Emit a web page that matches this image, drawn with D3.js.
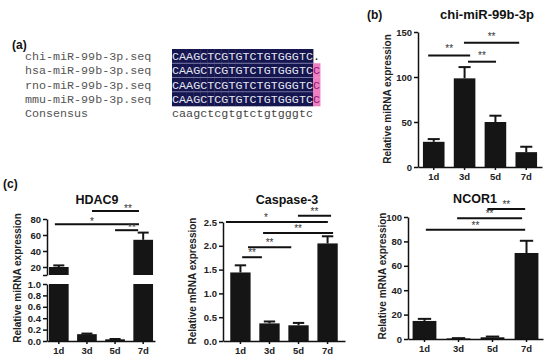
<!DOCTYPE html>
<html>
<head>
<meta charset="utf-8">
<title>miR-99b-3p figure</title>
<script src="https://cdnjs.cloudflare.com/ajax/libs/d3/7.8.5/d3.min.js"></script>
<style>
body { margin: 0; background: #fff; }
svg { font-family: "Liberation Sans", Arial, sans-serif; }
.axis path, .axis line { stroke: #111; stroke-width: 1.5px; }
.axis text { font-size: 9.5px; font-weight: bold; fill: #222; }
.seq { font-family: "Liberation Mono", "Courier New", monospace; font-size: 11.7px; }
.sig line { stroke: #111; stroke-width: 2px; }
.sig text { font-size: 10px; fill: #333; text-anchor: middle; }
.title { font-weight: bold; text-anchor: middle; fill: #111; }
.ylab { font-weight: bold; font-size: 10px; text-anchor: middle; fill: #222; }
.plab { font-weight: bold; font-size: 12px; fill: #111; }
</style>
</head>
<body>
<svg id="fig" width="550" height="358"></svg>
<script>
// (a) sequence alignment
var seqNames = ["chi-miR-99b-3p.seq", "hsa-miR-99b-3p.seq", "rno-miR-99b-3p.seq", "mmu-miR-99b-3p.seq"];
var seqRows = ["CAAGCTCGTGTCTGTGGGTC.", "CAAGCTCGTGTCTGTGGGTCC", "CAAGCTCGTGTCTGTGGGTCC", "CAAGCTCGTGTCTGTGGGTCC"];
var consensus = "caagctcgtgtctgtgggtc";

var days = ["1d", "3d", "5d", "7d"];

// (b) chi-miR-99b-3p
var mirMean = [28, 98.5, 50, 16.5];
var mirErr = [31, 111, 57, 22.5];
var mirTicks = [0, 50, 100, 150];
// [from idx, to idx, value, label, star idx]
var mirSig = [[-0.18, 1.18, 124, "**"], [0.98, 2.77, 138, "**"], [1.11, 2.02, 117, "**"]];

// (c) HDAC9 (broken axis)
var hdacMean = [20, 0.12, 0.03, 54];
var hdacErr = [22, 0.13, 0.035, 63];
var hdacTicksLow = [0, 0.2, 0.4, 0.6, 0.8, 1.0];
var hdacTicksHigh = [10, 20, 40, 60, 80];
var hdacSig = [[1.18, 2.85, 90, "**", 2.46], [-0.14, 2.85, 73.5, "*", 1.18], [2.0, 2.82, 66, "**", 2.6]];

// Caspase-3
var caspMean = [1.44, 0.37, 0.33, 2.05];
var caspErr = [1.59, 0.41, 0.38, 2.2];
var caspTicks = [0, 0.5, 1.0, 1.5, 2.0, 2.5];
var caspSig = [[0.06, 0.74, 1.76, "**"], [0.26, 1.75, 1.97, "**"], [0.78, 3.19, 2.27, "**"],
               [-0.5, 3.01, 2.5, "*", 0.88], [1.98, 3.12, 2.63, "**"]];

// NCOR1
var ncorMean = [14.8, 0.5, 1.4, 70.5];
var ncorErr = [16.5, 0.7, 2, 80.5];
var ncorTicks = [0, 20, 40, 60, 80, 100];
var ncorSig = [[1.85, 2.96, 106.5, "**"], [0.96, 2.87, 99, "**"], [0.04, 2.96, 89.5, "**"]];

var svg = d3.select("#fig");
svg.append("rect").attr("width", 550).attr("height", 358).attr("fill", "#fff");

// ---------- panel (a) ----------
var colW = 7.05, seqX = 172, rowTop = 49, rowH = 14.25;
svg.append("text").attr("class", "plab").attr("x", 12).attr("y", 49).text("(a)");

seqNames.concat(["Consensus"]).forEach(function(n, r) {
  svg.append("text").attr("class", "seq").attr("x", 25).attr("y", rowTop + r * rowH + 11)
    .attr("fill", "#555").text(n);
});

var ga = svg.append("g");
seqRows.forEach(function(s, r) {
  s.split("").forEach(function(c, j) {
    var same = seqRows.every(function(q) { return q[j] === seqRows[0][j]; });
    var bg = null, fg = "#111";
    if (same) { bg = "#15154f"; fg = "#e6e6f0"; }
    else if (c !== ".") { bg = "#ef80c0"; fg = "#8a1878"; }
    if (bg) ga.append("rect").attr("x", seqX + j * colW).attr("y", rowTop + r * rowH)
      .attr("width", colW + 0.4).attr("height", rowH + 0.3).attr("fill", bg);
    ga.append("text").attr("class", "seq").attr("x", seqX + j * colW + colW / 2)
      .attr("y", rowTop + r * rowH + 11).attr("text-anchor", "middle").attr("fill", fg).text(c);
  });
});
[1, 2, 3].forEach(function(r) {
  ga.append("line").attr("x1", seqX).attr("x2", seqX + 20 * colW)
    .attr("y1", rowTop + r * rowH).attr("y2", rowTop + r * rowH)
    .attr("stroke", "#8a8ab8").attr("stroke-width", 0.8);
});
consensus.split("").forEach(function(c, j) {
  ga.append("text").attr("class", "seq").attr("x", seqX + j * colW + colW / 2)
    .attr("y", rowTop + 4 * rowH + 11).attr("text-anchor", "middle").attr("fill", "#444").text(c);
});

// ---------- bar panels ----------
function barPanel(p) {
  var g = svg.append("g");
  var x = d3.scaleBand().domain(days).range(p.xr).paddingInner(0.3).paddingOuter(p.po);
  var bw = x.bandwidth();
  var xi = d3.scaleLinear().domain([0, days.length - 1])
    .range([x(days[0]) + bw / 2, x(days[days.length - 1]) + bw / 2]);
  var segs = p.segs.map(function(s) {
    return { domain: s.domain, ticks: s.ticks, fmt: s.fmt,
             y: d3.scaleLinear().domain(s.domain).range(s.range) };
  });
  var data = p.mean.map(function(v, i) { return { v: v, e: p.err[i], i: i }; });

  segs.forEach(function(s) {
    g.append("g").attr("class", "axis").attr("transform", "translate(" + p.xr[0] + ",0)")
      .call(d3.axisLeft(s.y).tickValues(s.ticks).tickFormat(s.fmt).tickSize(4).tickSizeOuter(0).tickPadding(2));

    g.append("g").selectAll("rect")
      .data(data.filter(function(d) { return d.v > s.domain[0]; }))
      .enter().append("rect")
        .attr("x", function(d) { return x(days[d.i]); })
        .attr("width", bw)
        .attr("y", function(d) { return s.y(Math.min(d.v, s.domain[1])); })
        .attr("height", function(d) { return s.y(s.domain[0]) - s.y(Math.min(d.v, s.domain[1])); })
        .attr("fill", "#151515");
  });

  // error bars (upper only)
  data.forEach(function(d) {
    var s = segs.filter(function(s) { return d.v >= s.domain[0] && d.v <= s.domain[1]; })[0];
    var cx = x(days[d.i]) + bw / 2, cw = bw * 0.28;
    g.append("line").attr("x1", cx).attr("x2", cx).attr("y1", s.y(d.v)).attr("y2", s.y(d.e))
      .attr("stroke", "#151515").attr("stroke-width", 2);
    g.append("line").attr("x1", cx - cw).attr("x2", cx + cw).attr("y1", s.y(d.e)).attr("y2", s.y(d.e))
      .attr("stroke", "#151515").attr("stroke-width", 2);
  });

  g.append("g").attr("class", "axis").attr("transform", "translate(0," + p.segs[0].range[0] + ")")
    .call(d3.axisBottom(x).tickSize(3).tickSizeOuter(0).tickPadding(3));

  // significance bars
  var ys = segs[segs.length - 1].y;
  var sg = g.append("g").attr("class", "sig");
  p.sig.forEach(function(s) {
    sg.append("line").attr("x1", xi(s[0])).attr("x2", xi(s[1])).attr("y1", ys(s[2])).attr("y2", ys(s[2]));
    var sx = s.length > 4 ? s[4] : (s[0] + s[1]) / 2;
    sg.append("text").attr("x", xi(sx)).attr("y", ys(s[2]) + p.starDy).text(s[3]);
  });

  g.append("text").attr("class", "title").attr("x", p.title[1]).attr("y", p.title[2])
    .attr("font-size", p.title[3]).text(p.title[0]);
  g.append("text").attr("class", "ylab").attr("transform", "translate(" + p.ylab[1] + "," + p.ylab[2] + ")rotate(-90)")
    .attr("font-size", p.ylab[3]).text(p.ylab[0]);
}

var intFmt = d3.format("d"), decFmt = d3.format(".1f");

barPanel({
  xr: [418, 542], po: 0.16, mean: mirMean, err: mirErr, sig: mirSig, starDy: -3,
  segs: [{ domain: [0, 150], range: [167, 32], ticks: mirTicks, fmt: intFmt }],
  title: ["chi-miR-99b-3p", 487, 19, "13px"],
  ylab: ["Relative miRNA expression", 391, 99, "10.5px"]
});

barPanel({
  xr: [47, 155], po: 0.07, mean: hdacMean, err: hdacErr, sig: hdacSig, starDy: 1,
  segs: [{ domain: [0, 1], range: [341, 284], ticks: hdacTicksLow, fmt: decFmt },
         { domain: [10, 80], range: [275, 219], ticks: hdacTicksHigh, fmt: function(d) { return d === 10 ? "" : d; } }],
  title: ["HDAC9", 97, 204, "12.5px"],
  ylab: ["Relative miRNA expression", 21, 278, "10px"]
});

barPanel({
  xr: [223, 345], po: 0.25, mean: caspMean, err: caspErr, sig: caspSig, starDy: -1,
  segs: [{ domain: [0, 2.5], range: [341, 222], ticks: caspTicks, fmt: decFmt }],
  title: ["Caspase-3", 287, 204, "12.5px"],
  ylab: ["Relative mRNA expression", 196, 281, "10px"]
});

barPanel({
  xr: [408, 543], po: 0.135, mean: ncorMean, err: ncorErr, sig: ncorSig, starDy: -1,
  segs: [{ domain: [0, 100], range: [339, 217], ticks: ncorTicks, fmt: intFmt }],
  title: ["NCOR1", 475, 203, "12.5px"],
  ylab: ["Relative mRNA expression", 386, 276, "10px"]
});

svg.append("text").attr("class", "plab").attr("x", 367).attr("y", 19).text("(b)");
svg.append("text").attr("class", "plab").attr("x", 3).attr("y", 188).text("(c)");
</script>
</body>
</html>
